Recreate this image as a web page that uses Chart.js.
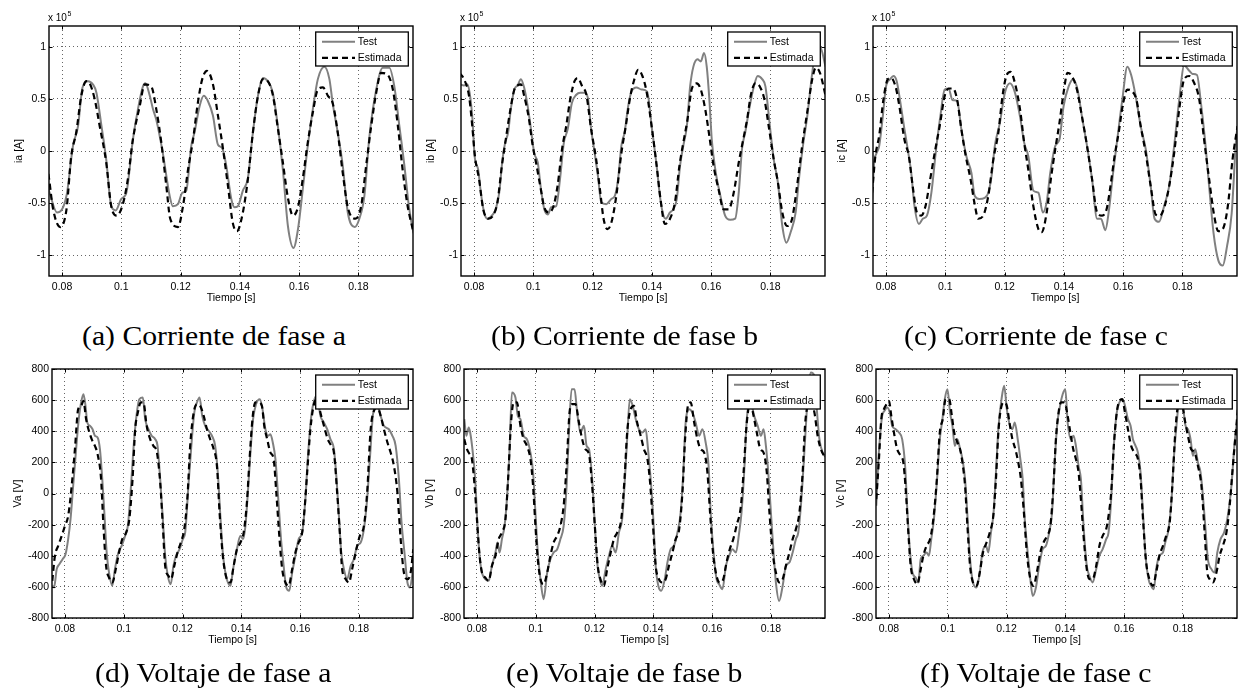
<!DOCTYPE html>
<html><head><meta charset="utf-8">
<script src="https://cdn.jsdelivr.net/npm/chart.js@4.4.0/dist/chart.umd.min.js"></script>
<style>
html,body{margin:0;padding:0;background:#fff;}
body{width:1238px;height:691px;overflow:hidden;position:relative;}
canvas{position:absolute;}
.cap{position:absolute;font-family:"Liberation Serif","Times New Roman",serif;font-size:27px;line-height:27px;white-space:nowrap;color:#000;transform-origin:0 0;}
</style></head><body>
<script>
// ---------- data ----------
const xTicks = [0.08, 0.1, 0.12, 0.14, 0.16, 0.18];
const yTicksCurrent = [-1, -0.5, 0, 0.5, 1];
const yTicksVoltage = [-800, -600, -400, -200, 0, 200, 400, 600, 800];
const seriesNames = ['Test', 'Estimada'];
const xLabel = 'Tiempo [s]';
const yLabels = ['ia [A]', 'ib [A]', 'ic [A]', 'Va [V]', 'Vb [V]', 'Vc [V]'];
const captions = ['(a) Corriente de fase a', '(b) Corriente de fase b', '(c) Corriente de fase c',
                  '(d) Voltaje de fase a', '(e) Voltaje de fase b', '(f) Voltaje de fase c'];

// currents in units of 1e5 A
const iaTest = [[0.0754,-0.36],[0.0758,-0.40],[0.0783,-0.59],[0.0815,-0.43],[0.0837,0.05],[0.0854,0.24],[0.0869,0.61],[0.0888,0.67],[0.0904,0.64],[0.0916,0.56],[0.0933,0.24],[0.0949,-0.08],[0.0966,-0.53],[0.0981,-0.57],[0.1000,-0.46],[0.1017,-0.40],[0.1039,0.11],[0.1056,0.40],[0.1073,0.62],[0.1081,0.65],[0.1096,0.53],[0.1107,0.40],[0.1118,0.30],[0.1140,-0.02],[0.1163,-0.43],[0.1174,-0.53],[0.1191,-0.51],[0.1206,-0.40],[0.1219,-0.38],[0.1236,0.05],[0.1247,0.18],[0.1264,0.43],[0.1278,0.53],[0.1292,0.48],[0.1309,0.34],[0.1326,0.06],[0.1340,0.03],[0.1354,-0.14],[0.1371,-0.46],[0.1382,-0.54],[0.1393,-0.53],[0.1410,-0.38],[0.1427,-0.26],[0.1444,0.18],[0.1461,0.53],[0.1478,0.70],[0.1494,0.67],[0.1511,0.56],[0.1528,0.24],[0.1545,-0.18],[0.1562,-0.72],[0.1581,-0.93],[0.1596,-0.75],[0.1612,-0.37],[0.1629,0.05],[0.1646,0.40],[0.1663,0.69],[0.1685,0.81],[0.1702,0.69],[0.1713,0.46],[0.1730,0.18],[0.1747,-0.14],[0.1764,-0.59],[0.1787,-0.73],[0.1803,-0.65],[0.1820,-0.43],[0.1837,0.14],[0.1860,0.59],[0.1882,0.80],[0.1904,0.80],[0.1921,0.62],[0.1938,0.24],[0.1955,-0.14],[0.1970,-0.53],[0.1983,-0.75],[0.1986,-0.79]];
const iaEstimada = [[0.0754,-0.22],[0.0756,-0.26],[0.0770,-0.56],[0.0794,-0.73],[0.0815,-0.56],[0.0831,-0.05],[0.0848,0.18],[0.0865,0.53],[0.0882,0.67],[0.0893,0.65],[0.0910,0.50],[0.0927,0.24],[0.0949,-0.11],[0.0966,-0.53],[0.0985,-0.62],[0.1006,-0.50],[0.1022,-0.27],[0.1039,0.11],[0.1062,0.43],[0.1079,0.64],[0.1101,0.62],[0.1118,0.40],[0.1135,0.08],[0.1152,-0.34],[0.1165,-0.65],[0.1191,-0.73],[0.1208,-0.53],[0.1225,-0.18],[0.1242,0.11],[0.1258,0.46],[0.1273,0.69],[0.1289,0.77],[0.1309,0.64],[0.1326,0.34],[0.1343,0.02],[0.1360,-0.34],[0.1376,-0.69],[0.1390,-0.77],[0.1410,-0.59],[0.1427,-0.27],[0.1444,0.18],[0.1461,0.53],[0.1478,0.69],[0.1494,0.67],[0.1511,0.54],[0.1528,0.22],[0.1545,-0.11],[0.1562,-0.45],[0.1579,-0.62],[0.1596,-0.54],[0.1612,-0.27],[0.1629,0.08],[0.1646,0.37],[0.1663,0.59],[0.1680,0.61],[0.1697,0.53],[0.1713,0.46],[0.1730,0.18],[0.1747,-0.21],[0.1764,-0.54],[0.1790,-0.65],[0.1809,-0.53],[0.1826,-0.14],[0.1843,0.24],[0.1860,0.56],[0.1876,0.75],[0.1899,0.73],[0.1916,0.59],[0.1933,0.24],[0.1949,-0.18],[0.1966,-0.53],[0.1983,-0.75],[0.1986,-0.79]];
const ibTest = [[0.0751,0.64],[0.0766,0.63],[0.0777,0.64],[0.0785,0.56],[0.0794,0.33],[0.0802,-0.05],[0.0814,-0.18],[0.0823,-0.40],[0.0834,-0.59],[0.0845,-0.65],[0.0860,-0.62],[0.0873,-0.56],[0.0885,-0.40],[0.0896,-0.08],[0.0905,0.08],[0.0915,0.18],[0.0924,0.40],[0.0936,0.59],[0.0947,0.63],[0.0958,0.69],[0.0969,0.61],[0.0981,0.43],[0.0992,0.21],[0.1003,-0.02],[0.1015,-0.11],[0.1026,-0.37],[0.1037,-0.56],[0.1049,-0.61],[0.1060,-0.54],[0.1077,-0.53],[0.1090,-0.27],[0.1103,0.08],[0.1116,0.21],[0.1130,0.46],[0.1145,0.54],[0.1158,0.56],[0.1173,0.56],[0.1184,0.51],[0.1195,0.21],[0.1207,-0.02],[0.1218,-0.24],[0.1229,-0.49],[0.1246,-0.51],[0.1263,-0.46],[0.1275,-0.43],[0.1286,-0.27],[0.1297,0.05],[0.1308,0.18],[0.1320,0.43],[0.1331,0.57],[0.1348,0.61],[0.1365,0.59],[0.1384,0.57],[0.1399,0.24],[0.1416,-0.14],[0.1427,-0.43],[0.1438,-0.61],[0.1447,-0.65],[0.1461,-0.59],[0.1472,-0.56],[0.1484,-0.46],[0.1495,-0.14],[0.1506,0.05],[0.1518,0.24],[0.1529,0.62],[0.1540,0.81],[0.1554,0.88],[0.1565,0.86],[0.1576,0.94],[0.1585,0.81],[0.1594,0.49],[0.1602,0.11],[0.1614,-0.18],[0.1631,-0.43],[0.1647,-0.62],[0.1664,-0.66],[0.1681,-0.65],[0.1693,-0.40],[0.1704,0.02],[0.1715,0.18],[0.1730,0.43],[0.1744,0.62],[0.1757,0.72],[0.1772,0.69],[0.1783,0.62],[0.1798,0.24],[0.1811,-0.08],[0.1825,-0.30],[0.1840,-0.72],[0.1854,-0.88],[0.1868,-0.78],[0.1885,-0.59],[0.1896,-0.27],[0.1911,0.08],[0.1924,0.33],[0.1941,0.75],[0.1953,0.97],[0.1967,1.00],[0.1986,0.81]];
const ibEstimada = [[0.0751,0.75],[0.0766,0.69],[0.0783,0.53],[0.0794,0.24],[0.0803,-0.05],[0.0817,-0.27],[0.0831,-0.56],[0.0849,-0.65],[0.0864,-0.62],[0.0879,-0.49],[0.0894,-0.14],[0.0907,0.11],[0.0921,0.37],[0.0936,0.59],[0.0947,0.63],[0.0958,0.64],[0.0969,0.53],[0.0984,0.33],[0.0998,0.05],[0.1009,-0.11],[0.1023,-0.33],[0.1037,-0.54],[0.1052,-0.59],[0.1068,-0.53],[0.1082,-0.33],[0.1097,0.02],[0.1111,0.24],[0.1124,0.49],[0.1139,0.67],[0.1150,0.70],[0.1165,0.62],[0.1179,0.54],[0.1195,0.21],[0.1212,-0.08],[0.1226,-0.40],[0.1237,-0.65],[0.1250,-0.75],[0.1263,-0.69],[0.1280,-0.43],[0.1297,-0.02],[0.1312,0.24],[0.1325,0.49],[0.1339,0.67],[0.1354,0.78],[0.1368,0.72],[0.1382,0.57],[0.1399,0.24],[0.1416,-0.14],[0.1429,-0.46],[0.1444,-0.70],[0.1461,-0.65],[0.1478,-0.49],[0.1493,-0.14],[0.1506,0.08],[0.1520,0.30],[0.1534,0.59],[0.1551,0.65],[0.1565,0.59],[0.1580,0.40],[0.1594,0.14],[0.1608,-0.14],[0.1625,-0.37],[0.1642,-0.56],[0.1659,-0.56],[0.1676,-0.40],[0.1693,-0.11],[0.1706,0.08],[0.1721,0.30],[0.1734,0.54],[0.1749,0.65],[0.1764,0.62],[0.1780,0.49],[0.1794,0.24],[0.1811,-0.08],[0.1825,-0.30],[0.1840,-0.59],[0.1856,-0.72],[0.1873,-0.65],[0.1890,-0.33],[0.1907,0.05],[0.1924,0.37],[0.1941,0.69],[0.1953,0.80],[0.1967,0.75],[0.1986,0.53]];
const icTest = [[0.0753,-0.46],[0.0760,-0.11],[0.0768,-0.02],[0.0777,0.05],[0.0789,0.33],[0.0800,0.62],[0.0814,0.69],[0.0825,0.72],[0.0836,0.67],[0.0847,0.49],[0.0862,0.21],[0.0873,0.02],[0.0885,-0.21],[0.0896,-0.53],[0.0911,-0.70],[0.0924,-0.65],[0.0938,-0.62],[0.0953,-0.40],[0.0969,0.02],[0.0983,0.33],[0.0998,0.59],[0.1011,0.60],[0.1024,0.49],[0.1040,0.48],[0.1054,0.21],[0.1071,-0.05],[0.1088,-0.21],[0.1099,-0.43],[0.1114,-0.46],[0.1133,-0.45],[0.1145,-0.40],[0.1156,-0.24],[0.1167,0.05],[0.1184,0.27],[0.1201,0.56],[0.1218,0.65],[0.1235,0.56],[0.1252,0.33],[0.1266,0.08],[0.1280,-0.05],[0.1297,-0.38],[0.1314,-0.40],[0.1329,-0.59],[0.1342,-0.49],[0.1354,-0.21],[0.1371,0.05],[0.1385,0.11],[0.1399,0.43],[0.1416,0.62],[0.1431,0.69],[0.1446,0.59],[0.1461,0.33],[0.1478,0.05],[0.1495,-0.27],[0.1512,-0.65],[0.1525,-0.65],[0.1540,-0.76],[0.1551,-0.59],[0.1566,-0.21],[0.1580,0.11],[0.1597,0.49],[0.1614,0.81],[0.1627,0.73],[0.1642,0.53],[0.1659,0.24],[0.1676,0.02],[0.1693,-0.34],[0.1706,-0.65],[0.1721,-0.68],[0.1738,-0.53],[0.1755,-0.34],[0.1772,0.05],[0.1789,0.49],[0.1806,0.82],[0.1823,0.77],[0.1834,0.74],[0.1849,0.73],[0.1862,0.47],[0.1876,0.11],[0.1890,-0.34],[0.1905,-0.79],[0.1921,-1.05],[0.1936,-1.10],[0.1950,-0.92],[0.1966,-0.60],[0.1981,0.11],[0.1986,0.24]];
const icEstimada = [[0.0753,-0.40],[0.0764,-0.05],[0.0777,0.15],[0.0791,0.49],[0.0806,0.69],[0.0817,0.70],[0.0832,0.62],[0.0845,0.43],[0.0862,0.11],[0.0877,-0.05],[0.0890,-0.34],[0.0904,-0.59],[0.0919,-0.62],[0.0933,-0.53],[0.0949,-0.27],[0.0964,-0.02],[0.0981,0.24],[0.0998,0.53],[0.1012,0.60],[0.1026,0.60],[0.1040,0.49],[0.1054,0.21],[0.1069,-0.05],[0.1085,-0.27],[0.1099,-0.51],[0.1111,-0.65],[0.1128,-0.62],[0.1145,-0.43],[0.1162,-0.08],[0.1179,0.18],[0.1193,0.53],[0.1207,0.73],[0.1220,0.76],[0.1235,0.65],[0.1252,0.40],[0.1266,0.08],[0.1280,-0.18],[0.1297,-0.53],[0.1314,-0.75],[0.1325,-0.78],[0.1342,-0.59],[0.1356,-0.27],[0.1371,0.02],[0.1385,0.27],[0.1399,0.56],[0.1412,0.75],[0.1427,0.72],[0.1444,0.59],[0.1461,0.33],[0.1478,0.05],[0.1495,-0.27],[0.1512,-0.59],[0.1529,-0.62],[0.1544,-0.56],[0.1557,-0.34],[0.1571,-0.05],[0.1585,0.18],[0.1600,0.46],[0.1614,0.59],[0.1631,0.57],[0.1645,0.49],[0.1659,0.24],[0.1676,-0.02],[0.1693,-0.34],[0.1710,-0.61],[0.1724,-0.62],[0.1740,-0.53],[0.1755,-0.34],[0.1772,-0.02],[0.1789,0.40],[0.1806,0.69],[0.1823,0.72],[0.1840,0.65],[0.1857,0.49],[0.1873,0.11],[0.1890,-0.27],[0.1907,-0.62],[0.1921,-0.77],[0.1936,-0.75],[0.1953,-0.53],[0.1969,-0.08],[0.1986,0.24]];

// voltages in V
const vaTest = [[0.0757,-593],[0.0763,-604],[0.0772,-486],[0.0781,-454],[0.0792,-422],[0.0802,-390],[0.0811,-293],[0.0819,-165],[0.0828,49],[0.0838,285],[0.0847,478],[0.0855,585],[0.0863,638],[0.0870,563],[0.0876,456],[0.0885,435],[0.0894,413],[0.0902,371],[0.0911,360],[0.0919,285],[0.0927,92],[0.0934,-122],[0.0942,-379],[0.0950,-508],[0.0961,-593],[0.0970,-486],[0.0982,-379],[0.0993,-336],[0.1005,-272],[0.1014,-208],[0.1024,28],[0.1033,285],[0.1042,478],[0.1053,606],[0.1065,617],[0.1073,478],[0.1084,413],[0.1095,371],[0.1107,349],[0.1115,306],[0.1124,92],[0.1133,-165],[0.1141,-400],[0.1150,-529],[0.1160,-583],[0.1169,-465],[0.1178,-400],[0.1190,-358],[0.1201,-293],[0.1209,-251],[0.1220,49],[0.1230,306],[0.1240,520],[0.1249,585],[0.1258,617],[0.1267,499],[0.1277,435],[0.1289,403],[0.1300,371],[0.1311,306],[0.1320,135],[0.1328,-122],[0.1337,-379],[0.1348,-529],[0.1363,-593],[0.1372,-486],[0.1383,-379],[0.1397,-272],[0.1406,-293],[0.1414,-208],[0.1423,28],[0.1431,263],[0.1440,478],[0.1450,574],[0.1463,606],[0.1472,542],[0.1482,413],[0.1491,371],[0.1499,381],[0.1507,328],[0.1516,221],[0.1525,-15],[0.1535,-293],[0.1544,-465],[0.1553,-604],[0.1563,-625],[0.1573,-508],[0.1584,-400],[0.1595,-293],[0.1607,-251],[0.1618,-36],[0.1626,221],[0.1638,499],[0.1649,606],[0.1658,628],[0.1669,499],[0.1681,456],[0.1692,413],[0.1703,349],[0.1715,285],[0.1724,92],[0.1732,-144],[0.1740,-379],[0.1749,-486],[0.1760,-550],[0.1772,-465],[0.1783,-422],[0.1794,-336],[0.1806,-315],[0.1817,-229],[0.1828,-36],[0.1838,242],[0.1849,520],[0.1863,563],[0.1874,499],[0.1885,435],[0.1902,413],[0.1914,371],[0.1925,306],[0.1936,92],[0.1945,-186],[0.1956,-400],[0.1965,-572],[0.1974,-604],[0.1985,-465]];
const vaEstimada = [[0.0757,-561],[0.0766,-400],[0.0777,-336],[0.0789,-272],[0.0800,-208],[0.0811,-144],[0.0823,49],[0.0834,285],[0.0845,542],[0.0855,563],[0.0863,595],[0.0872,478],[0.0880,413],[0.0891,349],[0.0902,306],[0.0911,253],[0.0923,92],[0.0931,-208],[0.0940,-465],[0.0950,-540],[0.0961,-572],[0.0973,-486],[0.0984,-379],[0.0995,-293],[0.1008,-251],[0.1019,-165],[0.1030,92],[0.1039,413],[0.1048,520],[0.1058,585],[0.1067,585],[0.1078,435],[0.1090,349],[0.1101,306],[0.1113,263],[0.1124,71],[0.1133,-208],[0.1141,-465],[0.1152,-529],[0.1161,-550],[0.1172,-465],[0.1183,-379],[0.1194,-315],[0.1206,-229],[0.1217,-15],[0.1226,306],[0.1238,520],[0.1249,574],[0.1260,563],[0.1272,499],[0.1283,413],[0.1294,349],[0.1306,285],[0.1317,178],[0.1326,-122],[0.1337,-400],[0.1349,-540],[0.1363,-572],[0.1374,-465],[0.1385,-358],[0.1397,-315],[0.1408,-251],[0.1419,-58],[0.1428,221],[0.1439,499],[0.1448,585],[0.1459,585],[0.1470,563],[0.1478,435],[0.1488,349],[0.1499,263],[0.1510,221],[0.1519,6],[0.1530,-293],[0.1539,-486],[0.1550,-572],[0.1561,-593],[0.1573,-486],[0.1584,-379],[0.1595,-315],[0.1607,-251],[0.1616,-79],[0.1624,135],[0.1635,413],[0.1647,574],[0.1658,606],[0.1669,520],[0.1681,435],[0.1694,349],[0.1706,306],[0.1715,263],[0.1726,6],[0.1735,-251],[0.1743,-486],[0.1755,-550],[0.1766,-572],[0.1777,-486],[0.1789,-379],[0.1803,-272],[0.1817,-208],[0.1828,6],[0.1840,413],[0.1851,531],[0.1863,553],[0.1874,499],[0.1885,413],[0.1897,328],[0.1908,263],[0.1919,178],[0.1931,6],[0.1942,-293],[0.1953,-508],[0.1965,-550],[0.1976,-508],[0.1985,-358]];
const vbTest = [[0.0757,478],[0.0764,371],[0.0772,424],[0.0777,392],[0.0786,263],[0.0794,92],[0.0802,-208],[0.0809,-400],[0.0817,-508],[0.0828,-550],[0.0840,-561],[0.0851,-465],[0.0863,-379],[0.0870,-315],[0.0877,-379],[0.0885,-293],[0.0894,-208],[0.0902,-36],[0.0911,285],[0.0919,649],[0.0931,617],[0.0939,499],[0.0948,478],[0.0959,371],[0.0970,349],[0.0982,263],[0.0991,135],[0.0999,-122],[0.1007,-379],[0.1016,-550],[0.1027,-679],[0.1039,-508],[0.1050,-422],[0.1061,-379],[0.1073,-358],[0.1084,-293],[0.1095,-208],[0.1105,49],[0.1113,392],[0.1122,670],[0.1132,670],[0.1141,520],[0.1152,392],[0.1164,435],[0.1173,306],[0.1181,285],[0.1192,92],[0.1200,-165],[0.1209,-443],[0.1218,-550],[0.1226,-593],[0.1238,-486],[0.1249,-400],[0.1260,-336],[0.1272,-379],[0.1283,-251],[0.1294,-165],[0.1302,49],[0.1311,349],[0.1320,606],[0.1330,563],[0.1340,478],[0.1351,413],[0.1363,392],[0.1374,413],[0.1382,285],[0.1391,92],[0.1400,-165],[0.1408,-465],[0.1417,-593],[0.1427,-625],[0.1439,-550],[0.1448,-443],[0.1459,-358],[0.1470,-336],[0.1482,-251],[0.1493,-122],[0.1502,135],[0.1510,456],[0.1522,542],[0.1533,520],[0.1544,456],[0.1556,371],[0.1567,413],[0.1578,328],[0.1588,178],[0.1595,-122],[0.1605,-379],[0.1615,-550],[0.1624,-583],[0.1635,-615],[0.1647,-465],[0.1658,-400],[0.1669,-358],[0.1681,-379],[0.1692,-251],[0.1700,-122],[0.1709,135],[0.1718,478],[0.1730,595],[0.1743,499],[0.1755,435],[0.1766,371],[0.1775,413],[0.1783,306],[0.1791,135],[0.1800,-122],[0.1809,-379],[0.1817,-572],[0.1828,-690],[0.1840,-593],[0.1851,-465],[0.1863,-443],[0.1874,-379],[0.1885,-293],[0.1893,-251],[0.1902,-79],[0.1911,178],[0.1919,435],[0.1927,670],[0.1936,777],[0.1948,756],[0.1957,520],[0.1965,349],[0.1976,263],[0.1988,231]];
const vbEstimada = [[0.0757,349],[0.0766,285],[0.0775,253],[0.0783,221],[0.0792,49],[0.0800,-165],[0.0808,-379],[0.0817,-508],[0.0828,-540],[0.0840,-561],[0.0851,-465],[0.0863,-400],[0.0874,-293],[0.0885,-251],[0.0897,-165],[0.0906,92],[0.0916,456],[0.0925,585],[0.0936,585],[0.0948,435],[0.0959,349],[0.0970,306],[0.0982,221],[0.0991,49],[0.0999,-208],[0.1007,-422],[0.1016,-550],[0.1027,-583],[0.1039,-508],[0.1050,-400],[0.1061,-315],[0.1073,-272],[0.1084,-208],[0.1095,-79],[0.1105,178],[0.1115,520],[0.1124,574],[0.1135,574],[0.1147,456],[0.1158,349],[0.1169,285],[0.1181,253],[0.1192,49],[0.1201,-208],[0.1211,-465],[0.1220,-550],[0.1232,-593],[0.1243,-486],[0.1255,-379],[0.1266,-293],[0.1277,-251],[0.1291,-165],[0.1302,92],[0.1311,392],[0.1323,542],[0.1334,563],[0.1345,456],[0.1357,371],[0.1368,285],[0.1380,221],[0.1389,71],[0.1399,-208],[0.1408,-465],[0.1419,-550],[0.1431,-572],[0.1442,-550],[0.1453,-465],[0.1465,-379],[0.1476,-293],[0.1488,-229],[0.1499,6],[0.1508,349],[0.1519,574],[0.1527,585],[0.1539,456],[0.1550,349],[0.1561,285],[0.1573,263],[0.1584,135],[0.1593,-122],[0.1603,-379],[0.1615,-529],[0.1626,-572],[0.1638,-550],[0.1649,-443],[0.1660,-358],[0.1672,-293],[0.1683,-208],[0.1698,-79],[0.1707,135],[0.1718,456],[0.1730,585],[0.1741,499],[0.1752,392],[0.1764,285],[0.1775,263],[0.1786,135],[0.1795,-122],[0.1806,-379],[0.1817,-508],[0.1828,-572],[0.1840,-550],[0.1851,-465],[0.1863,-379],[0.1874,-293],[0.1885,-229],[0.1897,-122],[0.1908,135],[0.1916,435],[0.1925,563],[0.1936,585],[0.1948,520],[0.1959,371],[0.1970,285],[0.1988,221]];
const vcTest = [[0.0757,-79],[0.0763,178],[0.0769,349],[0.0777,499],[0.0785,531],[0.0794,553],[0.0803,520],[0.0811,435],[0.0823,413],[0.0834,392],[0.0845,349],[0.0855,178],[0.0863,-122],[0.0872,-379],[0.0880,-508],[0.0891,-540],[0.0900,-572],[0.0908,-422],[0.0917,-400],[0.0928,-379],[0.0936,-400],[0.0944,-293],[0.0953,-165],[0.0963,71],[0.0972,328],[0.0982,478],[0.0990,606],[0.0999,670],[0.1008,520],[0.1016,435],[0.1024,306],[0.1033,349],[0.1042,285],[0.1050,221],[0.1059,92],[0.1067,-144],[0.1076,-422],[0.1086,-572],[0.1098,-604],[0.1109,-508],[0.1118,-379],[0.1130,-336],[0.1138,-379],[0.1147,-251],[0.1156,-122],[0.1164,135],[0.1173,435],[0.1183,606],[0.1192,692],[0.1201,542],[0.1209,456],[0.1220,413],[0.1228,456],[0.1238,349],[0.1247,221],[0.1255,92],[0.1262,-165],[0.1272,-379],[0.1281,-550],[0.1289,-658],[0.1300,-604],[0.1311,-465],[0.1323,-358],[0.1334,-336],[0.1345,-251],[0.1355,-122],[0.1362,135],[0.1372,435],[0.1382,563],[0.1391,638],[0.1400,670],[0.1408,456],[0.1419,349],[0.1428,371],[0.1436,306],[0.1445,178],[0.1453,92],[0.1462,-208],[0.1473,-465],[0.1482,-529],[0.1493,-572],[0.1505,-486],[0.1516,-400],[0.1527,-358],[0.1539,-293],[0.1547,-251],[0.1556,-36],[0.1565,306],[0.1575,520],[0.1584,585],[0.1595,606],[0.1603,563],[0.1613,478],[0.1622,435],[0.1630,349],[0.1639,306],[0.1647,263],[0.1656,135],[0.1664,-122],[0.1673,-400],[0.1683,-550],[0.1692,-593],[0.1701,-615],[0.1709,-486],[0.1720,-400],[0.1732,-379],[0.1740,-315],[0.1749,-251],[0.1760,-79],[0.1769,221],[0.1778,435],[0.1789,606],[0.1800,563],[0.1809,435],[0.1817,413],[0.1826,349],[0.1834,242],[0.1842,285],[0.1851,199],[0.1860,135],[0.1868,-15],[0.1876,-208],[0.1885,-422],[0.1897,-486],[0.1908,-508],[0.1917,-379],[0.1928,-293],[0.1940,-251],[0.1951,-165],[0.1965,49],[0.1976,328],[0.1988,520]];
const vcEstimada = [[0.0757,-36],[0.0766,221],[0.0774,478],[0.0783,542],[0.0792,574],[0.0800,595],[0.0808,499],[0.0817,392],[0.0828,285],[0.0840,242],[0.0849,199],[0.0857,28],[0.0866,-251],[0.0874,-465],[0.0885,-550],[0.0897,-583],[0.0906,-508],[0.0917,-400],[0.0928,-336],[0.0940,-293],[0.0951,-165],[0.0963,92],[0.0973,392],[0.0983,478],[0.0993,606],[0.1005,606],[0.1014,499],[0.1022,392],[0.1033,328],[0.1042,285],[0.1050,199],[0.1059,49],[0.1067,-208],[0.1076,-465],[0.1086,-572],[0.1098,-593],[0.1109,-508],[0.1120,-379],[0.1132,-315],[0.1143,-251],[0.1155,-144],[0.1164,92],[0.1173,413],[0.1183,563],[0.1192,585],[0.1201,563],[0.1210,456],[0.1220,349],[0.1230,285],[0.1240,199],[0.1249,92],[0.1260,-144],[0.1269,-379],[0.1281,-550],[0.1292,-593],[0.1303,-508],[0.1315,-379],[0.1326,-315],[0.1338,-272],[0.1349,-208],[0.1359,28],[0.1368,349],[0.1377,520],[0.1385,585],[0.1397,585],[0.1408,499],[0.1417,392],[0.1427,285],[0.1436,221],[0.1445,135],[0.1453,-36],[0.1462,-272],[0.1473,-486],[0.1482,-550],[0.1493,-550],[0.1505,-465],[0.1516,-336],[0.1527,-272],[0.1539,-229],[0.1547,-144],[0.1556,6],[0.1565,306],[0.1575,520],[0.1584,595],[0.1593,606],[0.1603,520],[0.1613,413],[0.1624,306],[0.1635,263],[0.1647,221],[0.1656,92],[0.1665,-186],[0.1675,-443],[0.1686,-550],[0.1698,-593],[0.1709,-508],[0.1720,-400],[0.1732,-336],[0.1743,-272],[0.1755,-186],[0.1764,49],[0.1774,392],[0.1783,563],[0.1794,595],[0.1806,478],[0.1817,371],[0.1828,285],[0.1840,263],[0.1851,178],[0.1863,49],[0.1874,-251],[0.1883,-508],[0.1891,-550],[0.1902,-572],[0.1914,-508],[0.1925,-400],[0.1936,-336],[0.1948,-251],[0.1959,-79],[0.1970,178],[0.1982,435],[0.1988,563]];

// ---------- layout / style ----------
const FONT = '"Liberation Sans", Arial, Helvetica, sans-serif';
const X_MIN = 0.0756, X_MAX = 0.1984;
const panels = [
  {test: iaTest, est: iaEstimada, yTicks: yTicksCurrent, ymin: -1.2, ymax: 1.2, exp: true,  L: 49,  T: 26,  R: 413,  B: 276, yOff: 30,   capX: 213.5,  capBase: 345.5},
  {test: ibTest, est: ibEstimada, yTicks: yTicksCurrent, ymin: -1.2, ymax: 1.2, exp: true,  L: 461, T: 26,  R: 825,  B: 276, yOff: 30,   capX: 624.5,  capBase: 345.5},
  {test: icTest, est: icEstimada, yTicks: yTicksCurrent, ymin: -1.2, ymax: 1.2, exp: true,  L: 873, T: 26,  R: 1237, B: 276, yOff: 30.5, capX: 1035.5, capBase: 345.5},
  {test: vaTest, est: vaEstimada, yTicks: yTicksVoltage, ymin: -800, ymax: 800, exp: false, L: 52,  T: 369, R: 413,  B: 618, yOff: 34,   capX: 213.5,  capBase: 683},
  {test: vbTest, est: vbEstimada, yTicks: yTicksVoltage, ymin: -800, ymax: 800, exp: false, L: 464, T: 369, R: 825,  B: 618, yOff: 34,   capX: 624.5,  capBase: 683},
  {test: vcTest, est: vcEstimada, yTicks: yTicksVoltage, ymin: -800, ymax: 800, exp: false, L: 876, T: 369, R: 1237, B: 618, yOff: 34.5, capX: 1035.5, capBase: 683}
];
const PADL = 52, PADT = 28, PADR = 4, XAXH = 34;

const framePlugin = {
  id: 'frame',
  afterDraw(chart, args, opts) {
    const {ctx, chartArea: a, scales: {x, y}} = chart;
    ctx.save();
    // inward tick marks (MATLAB style)
    ctx.strokeStyle = '#000';
    ctx.lineWidth = 1;
    ctx.setLineDash([]);
    ctx.beginPath();
    x.ticks.forEach(t => {
      const px = Math.round(x.getPixelForValue(t.value)) + 0.5;
      ctx.moveTo(px, a.bottom); ctx.lineTo(px, a.bottom - 3.5);
      ctx.moveTo(px, a.top); ctx.lineTo(px, a.top + 3.5);
    });
    y.ticks.forEach(t => {
      const py = Math.round(y.getPixelForValue(t.value)) + 0.5;
      ctx.moveTo(a.left, py); ctx.lineTo(a.left + 3.5, py);
      ctx.moveTo(a.right, py); ctx.lineTo(a.right - 3.5, py);
    });
    ctx.stroke();
    // axes box
    ctx.lineWidth = 1.4;
    ctx.strokeRect(a.left, a.top, a.right - a.left, a.bottom - a.top);
    // legend
    const bw = 92.6, bh = 34;
    const bx = a.right - 4.7 - bw, by = a.top + 6;
    ctx.fillStyle = '#fff';
    ctx.fillRect(bx, by, bw, bh);
    ctx.lineWidth = 1.3;
    ctx.strokeStyle = '#000';
    ctx.strokeRect(bx, by, bw, bh);
    const rows = [9.7, 25.9];
    chart.data.datasets.forEach((ds, i) => {
      const ry = by + rows[i];
      ctx.save();
      ctx.strokeStyle = ds.borderColor;
      ctx.lineWidth = ds.borderWidth;
      ctx.setLineDash(ds.borderDash || []);
      ctx.beginPath();
      ctx.moveTo(bx + 6.3, ry); ctx.lineTo(bx + 39.3, ry);
      ctx.stroke();
      ctx.restore();
      ctx.fillStyle = '#000';
      ctx.font = '10.5px ' + FONT;
      ctx.textAlign = 'left';
      ctx.textBaseline = 'middle';
      ctx.fillText(ds.label, bx + 42, ry + 0.5);
    });
    // exponent label
    if (opts.exp) {
      ctx.fillStyle = '#000';
      ctx.textAlign = 'left';
      ctx.textBaseline = 'alphabetic';
      ctx.font = '10px ' + FONT;
      const base = a.top - 5.5;
      ctx.fillText('x 10', a.left - 1, base);
      const w = ctx.measureText('x 10').width;
      ctx.font = '7px ' + FONT;
      ctx.fillText('5', a.left - 1 + w + 0.5, base - 4.5);
    }
    ctx.restore();
  }
};

panels.forEach((p, i) => {
  const cv = document.createElement('canvas');
  const left = p.L - PADL, top = p.T - PADT;
  const w = p.R - p.L + PADL + PADR, h = p.B - p.T + PADT + XAXH;
  cv.width = w; cv.height = h;
  cv.style.left = left + 'px'; cv.style.top = top + 'px';
  cv.style.width = w + 'px'; cv.style.height = h + 'px';
  document.body.appendChild(cv);

  new Chart(cv, {
    type: 'line',
    data: {
      datasets: [
        {label: seriesNames[0], data: p.test.map(([x, y]) => ({x, y})), borderColor: '#808080', borderWidth: 2,
         pointRadius: 0, cubicInterpolationMode: 'monotone', order: 2, clip: 0, fill: false},
        {label: seriesNames[1], data: p.est.map(([x, y]) => ({x, y})), borderColor: '#000000', borderWidth: 2.2,
         borderDash: [6, 4], pointRadius: 0, cubicInterpolationMode: 'monotone', order: 1, clip: 0, fill: false}
      ]
    },
    options: {
      responsive: false, animation: false, devicePixelRatio: 1, events: [],
      layout: {padding: {left: 0, top: PADT, right: PADR, bottom: 0}},
      plugins: {legend: {display: false}, tooltip: {enabled: false}, frame: {exp: p.exp}},
      scales: {
        x: {
          type: 'linear', min: X_MIN, max: X_MAX,
          afterBuildTicks: s => { s.ticks = xTicks.map(v => ({value: v})); },
          afterFit: s => { s.height = XAXH; },
          grid: {color: 'rgba(0,0,0,0.6)', lineWidth: 1, drawTicks: false},
          border: {display: false, dash: [1, 3]},
          ticks: {color: '#000', font: {family: FONT, size: 10.5}, padding: 4.5, maxRotation: 0, autoSkip: false,
                  callback: v => String(v)},
          title: {display: true, text: xLabel, color: '#000', font: {family: FONT, size: 10.5, lineHeight: 1.2},
                  padding: {top: 0, bottom: 5.7}}
        },
        y: {
          type: 'linear', min: p.ymin, max: p.ymax,
          afterBuildTicks: s => { s.ticks = p.yTicks.map(v => ({value: v})); },
          afterFit: s => { s.width = PADL; },
          grid: {color: 'rgba(0,0,0,0.6)', lineWidth: 1, drawTicks: false},
          border: {display: false, dash: [1, 3]},
          ticks: {color: '#000', font: {family: FONT, size: 10.5}, padding: 3, autoSkip: false,
                  callback: v => String(v)},
          title: {display: true, text: yLabels[i], color: '#000', font: {family: FONT, size: 10.5, lineHeight: 1.2},
                  padding: {top: PADL - p.yOff - 6.3, bottom: 0}}
        }
      }
    },
    plugins: [framePlugin]
  });

  const cap = document.createElement('div');
  cap.className = 'cap';
  cap.textContent = captions[i];
  document.body.appendChild(cap);
  const cw = cap.offsetWidth;
  const sx = 1.1;
  cap.style.left = (p.capX - cw * sx / 2) + 'px';
  cap.style.top = (p.capBase - 22.6) + 'px';
  cap.style.transform = 'scaleX(' + sx + ')';
});
</script>
</body></html>
